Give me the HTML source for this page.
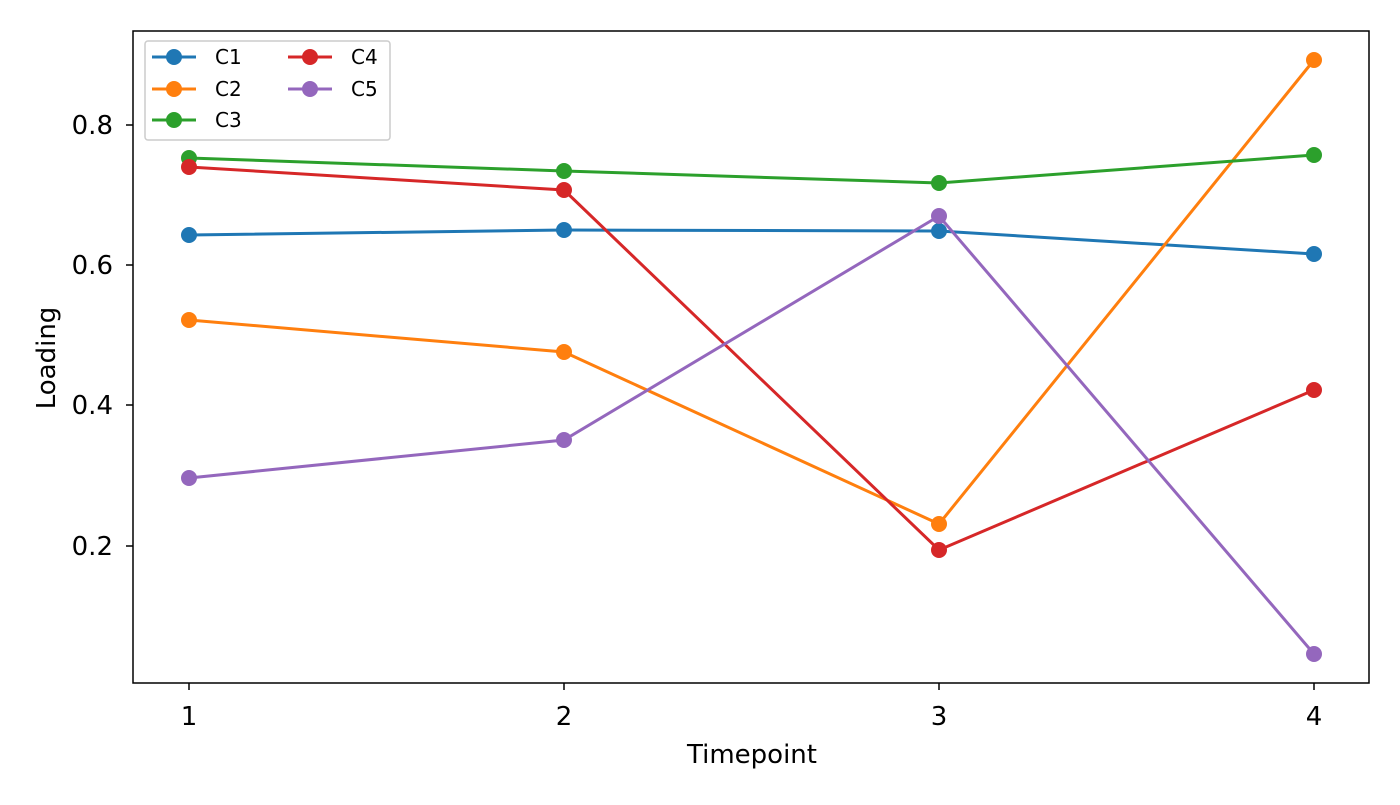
<!DOCTYPE html>
<html><head><style>body{margin:0;background:#fff}</style></head><body>
<svg width="1400" height="800" xmlns="http://www.w3.org/2000/svg" font-family="'DejaVu Sans', sans-serif">
<rect width="1400" height="800" fill="#fff"/>
<g stroke-width="3" fill="none">
<polyline stroke="#1f77b4" points="189,235 564,230 939,231 1314,254"/>
<polyline stroke="#ff7f0e" points="189,320 564,352 939,524 1314,60"/>
<polyline stroke="#2ca02c" points="189,158 564,171 939,183 1314,155"/>
<polyline stroke="#d62728" points="189,167 564,190 939,550 1314,390"/>
<polyline stroke="#9467bd" points="189,478 564,440 939,216 1314,654"/>
</g>
<g fill="#1f77b4"><circle cx="189" cy="235" r="8"/><circle cx="564" cy="230" r="8"/><circle cx="939" cy="231" r="8"/><circle cx="1314" cy="254" r="8"/></g>
<g fill="#ff7f0e"><circle cx="189" cy="320" r="8"/><circle cx="564" cy="352" r="8"/><circle cx="939" cy="524" r="8"/><circle cx="1314" cy="60" r="8"/></g>
<g fill="#2ca02c"><circle cx="189" cy="158" r="8"/><circle cx="564" cy="171" r="8"/><circle cx="939" cy="183" r="8"/><circle cx="1314" cy="155" r="8"/></g>
<g fill="#d62728"><circle cx="189" cy="167" r="8"/><circle cx="564" cy="190" r="8"/><circle cx="939" cy="550" r="8"/><circle cx="1314" cy="390" r="8"/></g>
<g fill="#9467bd"><circle cx="189" cy="478" r="8"/><circle cx="564" cy="440" r="8"/><circle cx="939" cy="216" r="8"/><circle cx="1314" cy="654" r="8"/></g>
<rect x="133" y="31" width="1236" height="652" fill="none" stroke="#000" stroke-width="1.5"/>
<g stroke="#000" stroke-width="1.5">
<line x1="189" y1="683" x2="189" y2="690"/><line x1="564" y1="683" x2="564" y2="690"/><line x1="939" y1="683" x2="939" y2="690"/><line x1="1314" y1="683" x2="1314" y2="690"/>
<line x1="126" y1="125" x2="133" y2="125"/><line x1="126" y1="265" x2="133" y2="265"/><line x1="126" y1="405" x2="133" y2="405"/><line x1="126" y1="546" x2="133" y2="546"/>
</g>
<g font-size="26" fill="#000" text-anchor="middle">
<text x="189" y="725">1</text><text x="564" y="725">2</text><text x="939" y="725">3</text><text x="1314" y="725">4</text>
<text x="752" y="763">Timepoint</text>
</g>
<g font-size="26" fill="#000" text-anchor="end">
<text x="113" y="134">0.8</text><text x="113" y="274">0.6</text><text x="113" y="414">0.4</text><text x="113" y="555">0.2</text>
</g>
<text transform="translate(55,358) rotate(-90)" font-size="26" text-anchor="middle">Loading</text>
<rect x="145" y="41" width="245" height="99" rx="3" fill="#fff" stroke="#ccc" stroke-width="1.5"/>
<g stroke-width="3">
<line x1="152" y1="57" x2="196" y2="57" stroke="#1f77b4"/><circle cx="174" cy="57" r="8" fill="#1f77b4"/>
<line x1="152" y1="89" x2="196" y2="89" stroke="#ff7f0e"/><circle cx="174" cy="89" r="8" fill="#ff7f0e"/>
<line x1="152" y1="120" x2="196" y2="120" stroke="#2ca02c"/><circle cx="174" cy="120" r="8" fill="#2ca02c"/>
<line x1="288" y1="57" x2="332" y2="57" stroke="#d62728"/><circle cx="310" cy="57" r="8" fill="#d62728"/>
<line x1="288" y1="89" x2="332" y2="89" stroke="#9467bd"/><circle cx="310" cy="89" r="8" fill="#9467bd"/>
</g>
<g font-size="20" fill="#000">
<text x="215" y="64">C1</text><text x="215" y="96">C2</text><text x="215" y="127">C3</text>
<text x="351" y="64">C4</text><text x="351" y="96">C5</text>
</g>
</svg>
</body></html>
